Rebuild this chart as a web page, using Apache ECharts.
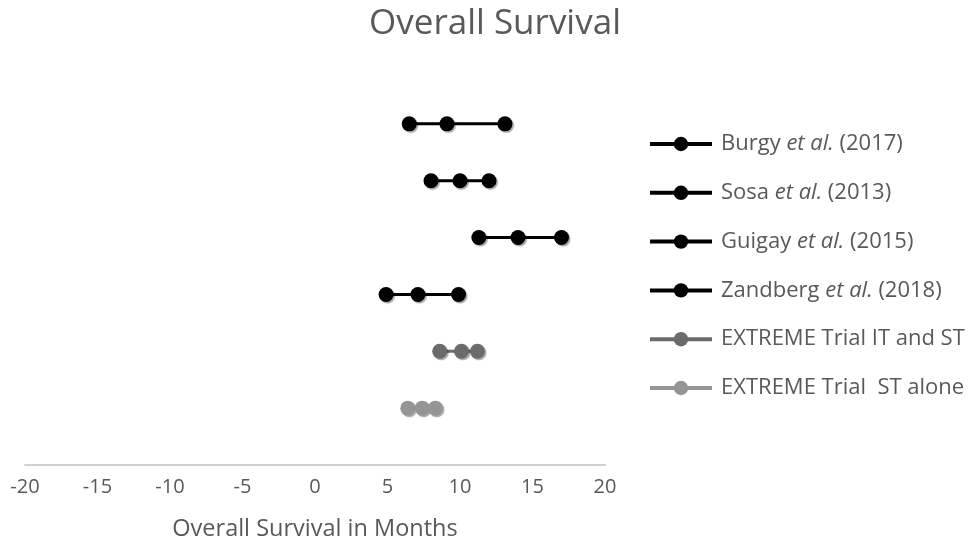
<!DOCTYPE html>
<html>
<head>
<meta charset="utf-8">
<script src="https://cdn.jsdelivr.net/npm/echarts@6/dist/echarts.min.js"></script>
<style>
  html, body { margin: 0; padding: 0; background: #fff; }
  #chart { width: 972px; height: 546px; }
</style>
</head>
<body>
<div id="chart"></div>
<script>
// Median overall survival (months) with 95% CI for each study
const studies = [
  'Burgy et al. (2017)',
  'Sosa et al. (2013)',
  'Guigay et al. (2015)',
  'Zandberg et al. (2018)',
  'EXTREME Trial IT and ST',
  'EXTREME Trial  ST alone'
];
const lower  = [6.5, 8.0, 11.3, 4.9, 8.6, 6.4];
const median = [9.1, 10.0, 14.0, 7.1, 10.1, 7.4];
const upper  = [13.1, 12.0, 17.0, 9.9, 11.2, 8.3];
const colors = ['#000000', '#000000', '#000000', '#000000', '#6b6b6b', '#959595'];
const xTicks = [-20, -15, -10, -5, 0, 5, 10, 15, 20];

const FONT = '"Open Sans"';
const TEXT = '#595959';

const series = studies.map((name, i) => {
  const row = studies.length - i; // top study on the highest row
  return {
    name: name,
    type: 'line',
    data: [[lower[i], row], [median[i], row], [upper[i], row]],
    symbol: 'circle',
    symbolSize: 15,
    lineStyle: { color: colors[i], width: 3 },
    itemStyle: {
      color: colors[i],
      shadowColor: 'rgba(0,0,0,0.35)',
      shadowBlur: 1,
      shadowOffsetX: 1.5,
      shadowOffsetY: 1.5
    },
    emphasis: { disabled: true },
    animation: false
  };
});

const chart = echarts.init(document.getElementById('chart'));
chart.setOption({
  animation: false,
  title: {
    text: 'Overall Survival',
    left: 490,
    top: 2,
    textAlign: 'center',
    textStyle: { fontFamily: FONT, fontSize: 35, fontWeight: 'normal', color: TEXT }
  },
  grid: { left: 25, right: 367, top: 67, bottom: 79 },
  xAxis: {
    type: 'value',
    min: -20,
    max: 20,
    interval: 5,
    name: 'Overall Survival in Months',
    nameLocation: 'middle',
    nameGap: 52,
    nameTextStyle: { fontFamily: FONT, fontSize: 23.5, color: TEXT },
    axisLine: { show: true, onZero: false, lineStyle: { color: '#d0d0d0', width: 2 } },
    axisTick: { show: false },
    splitLine: { show: false },
    axisLabel: {
      fontFamily: FONT, fontSize: 20, color: TEXT, margin: 12,
      formatter: v => xTicks.includes(v) ? String(v) : ''
    }
  },
  yAxis: {
    type: 'value',
    min: 0,
    max: 7,
    show: false
  },
  legend: {
    orient: 'vertical',
    left: 648,
    top: 131,
    itemWidth: 62,
    itemHeight: 18,
    itemGap: 22.8,
    padding: 0,
    data: studies,
    lineStyle: { width: 4 },
    formatter: n => n.replace('et al.', '{i|et al.}'),
    textStyle: {
      fontFamily: FONT, fontSize: 22, color: TEXT, lineHeight: 26,
      padding: [0, 0, 0, 4],
      rich: { i: { fontFamily: FONT, fontSize: 22, fontStyle: 'italic', color: TEXT } }
    }
  },
  series: series
});
</script>
</body>
</html>
